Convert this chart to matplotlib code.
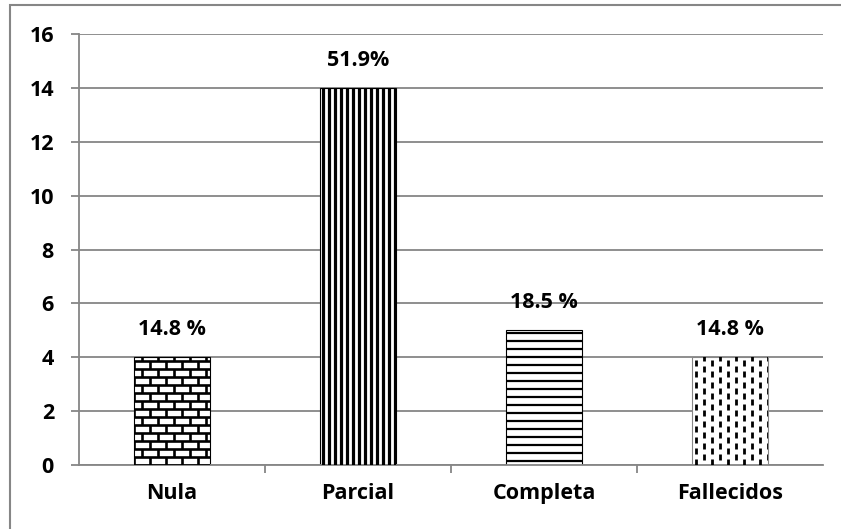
import matplotlib
matplotlib.use("Agg")
import matplotlib.pyplot as plt
import numpy as np
from matplotlib.collections import LineCollection
from matplotlib.patches import Rectangle

# Chart data
categories = ["Nula", "Parcial", "Completa", "Fallecidos"]
counts = [4, 14, 5, 4]
pct_labels = ["14.8 %", "51.9%", "18.5 %", "14.8 %"]
y_ticks = [0, 2, 4, 6, 8, 10, 12, 14, 16]

GRAY = "#868686"
plt.rcParams["font.family"] = ["Open Sans", "DejaVu Sans"]
plt.rcParams["font.weight"] = "bold"
FS = 15.5

W, H, DPI = 841, 529, 100
fig = plt.figure(figsize=(W / DPI, H / DPI), dpi=DPI)
ax = fig.add_axes([79 / W, 64 / H, 744 / W, 431 / H])

x = np.arange(len(categories))
ax.set_xlim(-0.5, len(categories) - 0.5)
ax.set_ylim(0, 16)

# size of one pixel in data units
px_x = (len(categories)) / 744
px_y = 16 / 431

bars = ax.bar(x, counts, width=0.41, color="white", edgecolor="black",
              linewidth=0.8, zorder=2)


def add_lines(ax, segs, patch, lw):
    lc = LineCollection(segs, colors="black", linewidths=lw, zorder=3,
                        capstyle="butt")
    ax.add_collection(lc)
    lc.set_clip_path(patch)


def brick(ax, patch):
    x0, w, h = patch.get_x(), patch.get_width(), patch.get_height()
    row, bw = 8 * px_y, 16 * px_x
    segs = []
    n_rows = int(h / row) + 1
    for r in range(n_rows + 1):
        y = r * row
        segs.append([(x0, y), (x0 + w, y)])
        off = 0 if r % 2 == 0 else bw / 2
        xs = np.arange(x0 - bw + off, x0 + w + bw, bw)
        for xv in xs:
            segs.append([(xv, y), (xv, y + row)])
    add_lines(ax, segs, patch, 1.9)


def vertical(ax, patch):
    x0, w, h = patch.get_x(), patch.get_width(), patch.get_height()
    step = 6 * px_x
    segs = [[(xv, 0), (xv, h)] for xv in np.arange(x0 + step / 2, x0 + w, step)]
    add_lines(ax, segs, patch, 2.3)


def horizontal(ax, patch):
    x0, w, h = patch.get_x(), patch.get_width(), patch.get_height()
    step = 8 * px_y
    segs = [[(x0, yv), (x0 + w, yv)] for yv in np.arange(step / 2, h, step)]
    add_lines(ax, segs, patch, 1.6)


def dashes(ax, patch):
    x0, w, h = patch.get_x(), patch.get_width(), patch.get_height()
    colstep, period, dash = 8 * px_x, 11 * px_y, 6 * px_y
    segs = []
    for i, xv in enumerate(np.arange(x0 + colstep / 2, x0 + w, colstep)):
        off = 0 if i % 2 == 0 else period / 2
        for yv in np.arange(-period + off, h + period, period):
            segs.append([(xv, yv), (xv, yv + dash)])
    add_lines(ax, segs, patch, 2.0)


for patch, fill in zip(bars, [brick, vertical, horizontal, dashes]):
    fill(ax, patch)
bars[3].set_edgecolor(GRAY)

# value labels above bars
for xi, c, lab in zip(x, counts, pct_labels):
    ax.annotate(lab, (xi, c), xytext=(0, 20), textcoords="offset points",
                ha="center", va="center", fontsize=FS, fontweight="bold")

ax.set_yticks(y_ticks)
ax.set_xticks(x)
ax.set_xticklabels(categories)
ax.set_xticks(np.arange(0.5, len(categories) - 0.5, 1), minor=True)
ax.grid(axis="y", color=GRAY, linewidth=1.3, zorder=0)
ax.set_axisbelow(True)

for s in ["top", "right"]:
    ax.spines[s].set_visible(False)
for s in ["left", "bottom"]:
    ax.spines[s].set_color(GRAY)
    ax.spines[s].set_linewidth(1.3)

ax.tick_params(axis="y", length=6, width=1.3, color=GRAY, pad=12,
               labelsize=FS)
ax.tick_params(axis="x", which="major", length=0, pad=13, labelsize=FS)
ax.tick_params(axis="x", which="minor", length=6, width=1.3, color=GRAY)

# chart area border
fig.add_artist(Rectangle((10 / W, -0.05), 1.0, 1 - 5 / H + 0.05,
                         transform=fig.transFigure, fill=False,
                         edgecolor=GRAY, linewidth=1.5))

fig.savefig("out.png", dpi=DPI)
